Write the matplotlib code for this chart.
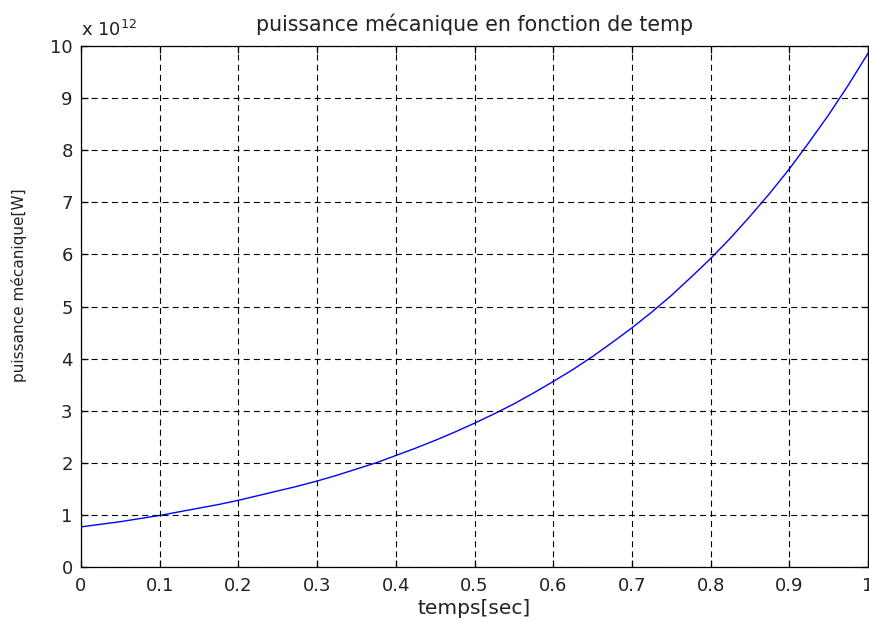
import numpy as np
import matplotlib
matplotlib.use("Agg")
import matplotlib.pyplot as plt

# mechanical power vs time, power in units of 1e12 W
temps = [0.0, 0.025, 0.05, 0.075, 0.1, 0.125, 0.15, 0.175, 0.2, 0.225, 0.25,
         0.275, 0.3, 0.325, 0.35, 0.375, 0.4, 0.425, 0.45, 0.475, 0.5,
         0.525, 0.55, 0.575, 0.6, 0.625, 0.65, 0.675, 0.7, 0.725, 0.75,
         0.775, 0.8, 0.825, 0.85, 0.875, 0.9, 0.925, 0.95, 0.975, 1.0]
puissance = [0.77, 0.82, 0.87, 0.93, 0.99, 1.06, 1.13, 1.20, 1.28, 1.37, 1.46,
             1.55, 1.65, 1.76, 1.88, 2.00, 2.14, 2.28, 2.43, 2.59, 2.76,
             2.94, 3.13, 3.34, 3.56, 3.79, 4.04, 4.31, 4.59, 4.89, 5.21,
             5.56, 5.92, 6.31, 6.73, 7.17, 7.64, 8.15, 8.68, 9.25, 9.86]
x_ticks = [0, 0.1, 0.2, 0.3, 0.4, 0.5, 0.6, 0.7, 0.8, 0.9, 1]
x_ticklabels = ["0", "0.1", "0.2", "0.3", "0.4", "0.5", "0.6", "0.7", "0.8", "0.9", "1"]
y_ticks = list(range(0, 11))

plt.rcParams['font.family'] = ['DejaVu Sans']
plt.rcParams['lines.scale_dashes'] = False

W, H = 869, 623
fig = plt.figure(figsize=(W / 100, H / 100), dpi=100)
ax = fig.add_axes([81 / W, 1 - 567 / H, 787 / W, 521 / H])

ax.plot(temps, puissance, color=(0, 0, 1), lw=1.0)

ax.set_xlim(0, 1)
ax.set_ylim(0, 10)
ax.set_xticks(x_ticks)
ax.set_xticklabels(x_ticklabels)
ax.set_yticks(y_ticks)

ax.grid(True, color='black', lw=0.8, linestyle=(0, (4.3, 3.0)))
ax.set_axisbelow(False)

for s in ax.spines.values():
    s.set_linewidth(0.9)
    s.set_color('black')

ax.tick_params(direction='in', length=5, width=0.9, top=True, right=True,
               labelsize=13, colors='black')
ax.tick_params(axis='x', pad=7)
ax.tick_params(axis='y', pad=6)
for lab in ax.get_xticklabels() + ax.get_yticklabels():
    lab.set_color('#222222')

ax.set_title("puissance mécanique en fonction de temp", fontsize=14.8,
             color='#222222', pad=11)
ax.set_xlabel("temps[sec]", fontsize=14.5, color='#222222', labelpad=3)
ax.set_ylabel("puissance mécanique[W]", fontsize=11, color='#222222')
ax.yaxis.set_label_coords(-0.069, 0.54)

# scale factor shown above the y axis
ax.text(0.0, 1.012, r"x 10$^{12}$", transform=ax.transAxes, fontsize=13,
        color='#222222', ha='left', va='bottom')

fig.savefig("out.png", dpi=100, facecolor='white')
